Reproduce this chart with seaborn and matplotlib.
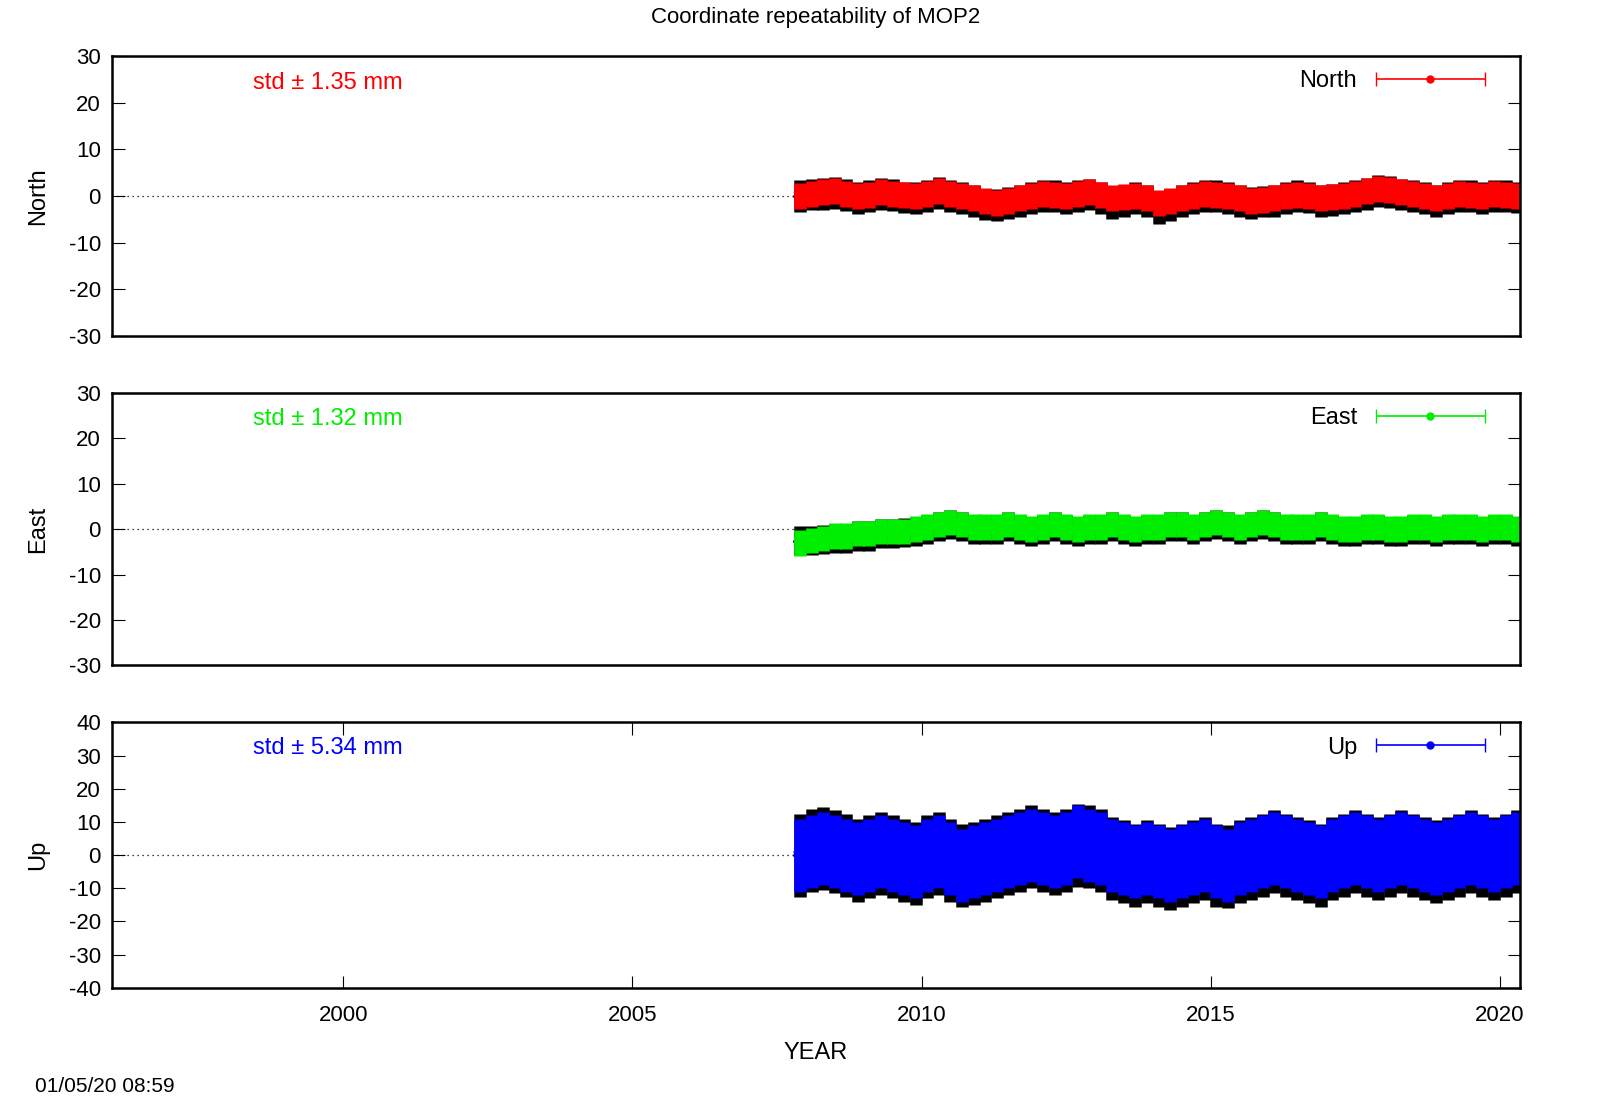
import numpy as np
import pandas as pd
import matplotlib
matplotlib.use("Agg")
import matplotlib.pyplot as plt
from matplotlib.legend_handler import HandlerErrorbar
import seaborn as sns

plt.rcParams["font.family"] = "Liberation Sans"
plt.rcParams["axes.unicode_minus"] = False

title = "Coordinate repeatability of MOP2"
components = ["North", "East", "Up"]
colors = ["#ff0000", "#00ee00", "#0000ff"]
std_labels = ["std \u00b1 1.35 mm", "std \u00b1 1.32 mm", "std \u00b1 5.34 mm"]
ylims = [(-30, 30), (-30, 30), (-40, 40)]
start_year, end_year = 2007.9, 2020.3

north_col = [0,0.5,0.8,1,0.5,0,0.3,0.8,0.5,0.2,0,0.5,1,0.5,0,-0.5,-1,-1.5,-1,-0.5,0,0.5,0.3,0,0.5,0.8,0.3,-0.5,-0.3,0,-0.5,-1.5,-1,-0.5,0,0.5,0.3,0,-0.5,-1,-0.8,-0.5,0,0.3,0,-0.5,-0.3,0,0.5,1,1.5,1.2,0.8,0.5,0,-0.5,0,0.5,0.3,0,0.5,0.3,0]
north_blk = [0,0.3,0.5,0.6,0.2,-0.5,0,0.5,0.2,-0.3,-0.5,0,0.6,0,-0.5,-1,-1.8,-2,-1.5,-1,-0.5,0,0,-0.5,0,0.3,-0.5,-1.5,-1,-0.5,-1,-2.5,-2,-1,-0.5,0,0,-0.5,-1,-1.5,-1.2,-1,-0.5,0,-0.3,-1,-0.8,-0.5,0,0.5,1,0.8,0.3,0,-0.5,-1,-0.5,0,0,-0.5,0,0,-0.3]
east_col = [-3,-2.5,-2,-1.5,-1.5,-1,-1,-0.5,-0.5,-0.5,0,0.5,1,1.5,1,0.5,0.5,0.5,1,0.5,0,0.5,1,0.5,0,0.5,0.5,1,0.5,0,0.5,0.5,1,1,0.5,1,1.5,1,0.5,1,1.5,1,0.5,0.5,0.5,1,0.5,0,0,0.5,0.5,0,0,0.5,0.5,0,0.5,0.5,0.5,0,0.5,0.5,0]
east_blk = [-2.5,-2.5,-2.2,-2,-2,-1.5,-1.5,-1,-1,-0.8,-0.5,0,0.5,1,0.5,0,0,0,0.5,0,-0.5,0,0.5,0,-0.5,0,0,0.5,0,-0.5,0,0,0.5,0.5,0,0.5,1,0.5,0,0.5,1,0.5,0,0,0,0.5,0,-0.5,-0.5,0,0,-0.5,-0.5,0,0,-0.5,0,0,0,-0.5,0,0,-0.5]
up_col = [0,1,2,1,0,-1,0,1,0,-1,-2,0,1,-1,-3,-2,-1,0,1,2,3,2,1,2,4,3,2,0,-1,-2,-1,-2,-3,-2,-1,0,-2,-3,-1,0,1,2,1,0,-1,-2,0,1,2,1,0,1,2,1,0,-1,0,1,2,1,0,1,2]
up_blk = [0,1.5,2,1,0,-1.5,-0.5,0.5,-0.5,-1.5,-2.5,-0.5,0.5,-1.5,-3,-2.5,-1.5,-0.5,0.5,1.5,2.5,1.5,0.5,1.5,3,2.5,1.5,-1,-2,-3,-2,-3,-4,-3,-2,-1,-3,-3.5,-2,-1,0,1,0,-1,-2,-3,-1,0,1,0,-1,0,1,0,-1,-2,-1,0,1,0,-1,0,1]
col_spread = [2.8, 2.8, 11.0]
blk_spread = [3.4, 3.2, 12.5]
xticks = [2000, 2005, 2010, 2015, 2020]

series_col = [north_col, east_col, up_col]
series_blk = [north_blk, east_blk, up_blk]

fig = plt.figure(figsize=(16, 11.2), dpi=100)
rects = [[0.07, 0.70, 0.88, 0.25], [0.07, 0.406, 0.88, 0.243], [0.07, 0.118, 0.88, 0.237]]
for i, comp in enumerate(components):
    ax = fig.add_axes(rects[i])
    yrs = np.linspace(start_year, end_year, len(series_col[i]))
    ax.axhline(0, color="black", ls=(0, (1, 3)), lw=0.9, zorder=0)
    ax.errorbar(yrs, series_blk[i], yerr=blk_spread[i], fmt="D", color="black",
                ms=7, elinewidth=9, capsize=0, zorder=1)
    sns.lineplot(x=yrs, y=series_blk[i], ax=ax, color="black", lw=4, zorder=1)
    ax.errorbar(yrs, series_col[i], yerr=col_spread[i], fmt="o", color=colors[i],
                ms=7, elinewidth=9, capsize=0, zorder=2)
    sns.lineplot(x=yrs, y=series_col[i], ax=ax, color=colors[i], lw=8, zorder=2)
    h = ax.errorbar([-100], [0], xerr=[1], fmt="o", color=colors[i], ms=5,
                    capsize=5, elinewidth=1.2, label=comp)
    ax.legend(handles=[h], labels=[comp], loc="upper right", frameon=False,
              fontsize=17, markerfirst=False, handlelength=4.6, borderaxespad=0.2,
              bbox_to_anchor=(0.985, 1.0),
              handler_map={type(h): HandlerErrorbar(xerr_size=2.3)})
    ax.text(0.10, 0.905, std_labels[i], transform=ax.transAxes, color=colors[i],
            fontsize=17, va="center")
    ax.set_xlim(1996.0, 2020.35)
    ax.set_ylim(*ylims[i])
    lo, hi = ylims[i]
    ax.set_yticks(np.arange(lo, hi + 1, 10))
    ax.set_ylabel(comp, fontsize=17, labelpad=14)
    ax.tick_params(axis="y", direction="in", right=True, labelsize=16, length=9, pad=8)
    if i < 2:
        ax.set_xticks([])
    else:
        ax.set_xticks(xticks)
        ax.tick_params(axis="x", direction="in", top=True, labelsize=16, length=9, pad=12)
        ax.set_xlabel("YEAR", fontsize=17, labelpad=12)
    for s in ax.spines.values():
        s.set_linewidth(1.8)

fig.text(0.51, 0.984, title, ha="center", va="center", fontsize=16)
fig.text(0.022, 0.03, "01/05/20 08:59", fontsize=15, va="center")
fig.savefig("out.png", dpi=100)
